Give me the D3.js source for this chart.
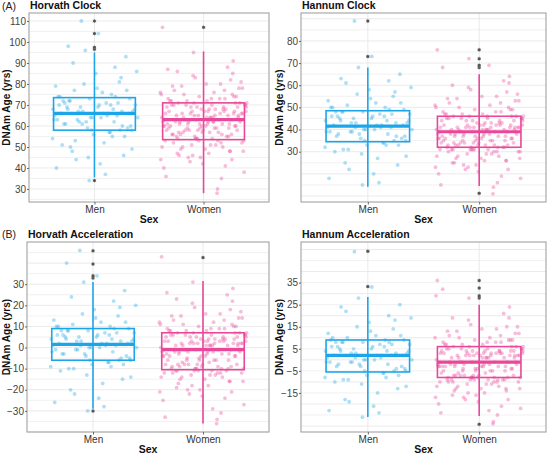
<!DOCTYPE html>
<html>
<head>
<meta charset="utf-8">
<script src="https://cdn.jsdelivr.net/npm/d3@7"></script>
<style>
  body { margin: 0; background: #fff; }
  svg { display: block; font-family: "Liberation Sans", Arial, sans-serif; }
</style>
</head>
<body>
<svg id="chart" width="548" height="453"></svg>
<script>
// categories
const groups = ["Men", "Women"];
const colors = { Men: "#1ca6e9", Women: "#e8479a" };

// box stats: [lower whisker, Q1, median, Q3, upper whisker]
const hcBox = { Men: [35.5, 58, 66, 73.5, 95], Women: [28, 53.5, 63, 71, 95.5] };
const hcOut = { Men: [34, 96.5, 97.5, 104, 110], Women: [107] };
const hnBox = { Men: [14.2, 34.5, 41.5, 48.5, 68], Women: [14.5, 32, 39, 46, 65] };
const hnOut = { Men: [73, 89], Women: [11.2, 68, 69, 72, 76] };
const haBox = { Men: [-29, -6, 1.5, 9, 31], Women: [-36, -10.5, -1, 7, 31.5] };
const haOut = { Men: [-30, 33, 34, 39.6, 45.8], Women: [42.6] };
const naBox = { Men: [-25.9, -5.5, 2, 9, 28.5], Women: [-25.5, -8, -1, 6, 25] };
const naOut = { Men: [33.2, 49.2], Women: [-29.2, 28, 29, 32.5, 36] };

// tick labels
const hcTicks = [30, 40, 50, 60, 70, 80, 90, 100, 110];
const hnTicks = [30, 40, 50, 60, 70, 80];
const haTicks = [-30, -20, -10, 0, 10, 20, 30];
const naTicks = [-15, -5, 5, 15, 25, 35];

// jittered individual values
const hcMen = [66,72,58,45,81,63,69,77,55,61,70,68,52,74,88,64,59,67,42,71,
65,79,57,62,73,50,85,66,60,69,76,54,68,64,93,48,71,63,58,80,
67,44,70,61,75,56,66,72,37,65,83,59,68,62,78,51,74,67,60,90,
64,70,46,73,57,69,86,63,66,40,71,58,77,53,65,68,62,96,49,72,
104,61,67,110,55,74,64,34,70,98];
const hcWomen = [63,71,54,48,77,60,66,58,82,69,51,64,73,45,62,56,68,79,59,65,
38,72,61,55,67,84,50,63,70,57,75,42,66,60,53,69,88,62,47,71,
64,58,76,52,67,61,35,73,56,65,80,49,63,70,59,44,68,54,74,62,
57,66,91,51,69,60,78,46,64,72,55,61,67,40,58,75,63,53,70,86,
65,59,48,71,62,56,81,66,52,68,60,74,43,64,57,69,54,77,61,30,
67,63,50,72,58,65,83,55,70,62,47,66,59,73,53,64,79,60,45,68,
57,71,63,51,76,61,95,56,67,49,64,70,58,85,62,54,69,41,66,60,
74,52,65,57,107,68,63,48,72,59,61,78,55,67,36,64,70,53,62,80,
58,66,50,73,60,65,46,69,56,28,63,71,54,61,87,67,59,44,75,62];
const hnMen = [42,48,35,29,55,39,45,51,33,41,47,44,27,50,62,40,36,43,20,46,
41,53,34,38,49,31,58,42,37,45,52,32,44,40,65,25,47,39,35,56,
43,22,46,38,50,33,42,48,16,41,57,36,44,39,54,30,49,43,37,61,
40,46,24,48,34,45,59,39,42,18,47,35,52,31,41,44,38,68,28,48,
73,37,43,89,33,50,40,15,46,63];
const hnWomen = [39,46,32,27,52,36,42,34,57,44,29,40,48,24,38,33,43,54,35,41,
18,47,37,31,42,59,28,39,45,33,50,21,41,36,30,44,62,38,26,46,
40,34,51,30,42,37,16,48,33,41,55,27,39,45,35,23,43,31,49,38,
33,41,64,29,44,36,53,25,40,47,32,37,42,20,34,50,39,31,45,60,
41,35,26,46,38,33,56,41,30,43,36,49,22,40,34,44,31,52,37,14,
42,39,28,47,34,41,58,32,45,38,25,41,35,48,31,40,54,36,24,43,
33,46,39,29,51,37,72,32,42,27,40,45,34,61,38,31,44,19,41,36,
49,30,40,33,76,43,39,26,47,35,37,53,31,42,15,40,45,30,38,55,
34,41,28,46,36,40,23,44,32,11,39,46,31,37,68,42,35,22,50,69];
const haMen = [2,8,-6,-13,15,-2,5,11,-8,1,7,4,-17,10,22,0,-4,3,-24,6,
1,13,-7,-3,9,-10,18,2,-5,5,12,-9,4,0,27,-20,7,-1,-6,16,
3,-22,6,-3,10,-8,2,8,-28,1,19,-4,4,-1,14,-11,9,3,-5,24,
0,6,-15,8,-7,5,20,-1,2,-26,7,-6,12,-10,1,4,-2,31,-14,8,
34,-3,3,46,-9,10,0,-30,6,40];
const haWomen = [-1,7,-10,-16,13,-4,3,-8,18,5,-13,0,9,-20,-2,-9,4,15,-6,2,
-27,8,-3,-11,4,21,-14,-1,6,-7,11,-23,2,-4,-12,5,25,-2,-18,7,
1,-8,12,-12,3,-5,-31,9,-9,2,16,-15,-1,6,-6,-21,4,-10,10,-2,
-7,3,28,-13,5,-4,14,-17,1,8,-10,-5,3,-25,-8,11,-1,-11,6,23,
2,-6,-16,7,-2,-9,17,2,-12,4,-4,10,-22,1,-8,5,-10,13,-3,-34,
3,-1,-14,8,-8,2,19,-11,6,-2,-19,2,-6,9,-12,1,15,-4,-20,4,
-9,7,-1,-13,12,-3,31,-10,3,-15,1,6,-8,22,-2,-11,5,-24,2,-4,
10,-12,1,-9,43,4,-1,-16,8,-6,-3,14,-11,3,-33,1,6,-10,-2,16,
-8,2,-14,9,-4,1,-18,5,-10,-36,-1,7,-11,-3,26,3,-6,-21,11,-29];
const naMen = [2,8,-5,-11,14,-1,5,10,-7,1,7,4,-15,9,20,0,-3,3,-21,6,
2,12,-6,-2,9,-9,17,2,-4,5,11,-8,4,0,25,-18,7,-1,-5,15,
3,-19,6,-2,9,-7,2,8,-24,1,18,-3,4,-1,13,-10,8,3,-4,22,
0,6,-13,8,-6,5,19,-1,2,-23,7,-5,11,-9,1,4,-2,28,-12,8,
33,-3,3,49,-8,10,0,-26,6,24];
const naWomen = [-1,6,-8,-13,11,-3,3,-6,15,4,-11,0,8,-16,-2,-7,3,13,-5,2,
-22,7,-3,-9,4,18,-12,-1,5,-6,9,-19,2,-3,-10,4,21,-2,-15,6,
1,-7,10,-10,3,-4,-25,8,-8,2,14,-13,-1,5,-5,-17,3,-8,9,-2,
-6,3,24,-11,4,-4,12,-14,1,7,-9,-4,2,-20,-7,10,-1,-9,5,19,
2,-5,-13,6,-2,-8,15,2,-10,3,-3,9,-18,1,-7,4,-8,11,-3,-28,
3,-1,-12,7,-7,2,16,-9,5,-2,-16,2,-5,8,-10,1,13,-4,-17,4,
-8,6,-1,-11,10,-3,28,-9,3,-13,1,5,-7,19,-2,-9,4,-21,2,-4,
9,-10,1,-8,36,4,-1,-14,7,-5,-3,12,-9,3,-24,1,5,-8,-2,14,
-7,2,-12,8,-3,1,-15,4,-9,-29,-1,6,-10,-3,32,3,-5,-18,29,-23];

// horizontal jitter offsets (fraction of jitter width)
const jitMen = [.31,-.72,.85,-.14,.57,-.93,.08,-.46,.69,-.28,.94,-.61,.22,-.83,.47,-.05,.76,-.37,.13,-.68,
.52,-.89,.36,-.19,.81,-.55,.03,-.77,.64,-.32,.18,-.96,.43,-.09,.72,-.51,.27,-.85,.59,-.24,
.88,-.42,.11,-.66,.39,-.02,.79,-.58,.25,-.91,.61,-.16,.92,-.35,.06,-.74,.48,-.27,.83,-.49,
.15,-.81,.67,-.11,.34,-.63,.97,-.39,.2,-.87,.54,-.07,.74,-.44,.29,-.95,.45,-.21,.86,-.56,
.09,-.7,.63,-.3,.41,-.79,.99,-.12,.37,-.6];
const jitWomen = [-.44,.73,-.18,.91,-.67,.05,.38,-.85,.62,-.29,.16,-.96,.49,-.07,.84,-.53,.27,-.71,.58,-.12,
.93,-.38,.09,-.62,.71,-.24,.44,-.89,.19,-.47,.66,-.02,.87,-.76,.33,-.15,.55,-.93,.12,-.58,
.79,-.33,.24,-.69,.97,-.09,.41,-.81,.64,-.21,.06,-.52,.82,-.4,.3,-.98,.51,-.17,.75,-.64,
.14,-.87,.68,-.27,.46,-.04,.89,-.56,.21,-.74,.57,-.36,.02,-.91,.77,-.45,.35,-.11,.95,-.6,
.26,-.8,.6,-.22,.11,-.7,.86,-.49,.4,-.05,-.92,.7,-.31,.17,-.57,.98,-.14,.48,-.83,.32,
-.26,.63,-.95,.08,-.42,.8,-.19,.53,-.73,.23,-.6,.9,-.08,.37,-.88,.15,-.5,.74,-.35,.45,
-.03,.83,-.66,.28,-.99,.59,-.23,.42,-.79,.04,-.46,.96,-.13,.67,-.54,.2,-.84,.5,-.3,.72,
-.1,.88,-.62,.34,-.94,.13,-.39,.61,-.77,.25,-.55,.81,-.2,.47,-.86,.07,-.68,.92,-.34,.39,
-.01,.69,-.48,.18,-.9,.56,-.25,.78,-.72,.31,-.16,.99,-.59,.43,-.82,.1,-.37,.65,-.97,.22];

const svg = d3.select("#chart");

// panel label letters
svg.append("text").attr("x", 2).attr("y", 10).attr("font-size", 10.5).attr("fill", "#222").text("(A)");
svg.append("text").attr("x", 2).attr("y", 238).attr("font-size", 10.5).attr("fill", "#222").text("(B)");

function drawPanel(p) {
  const g = svg.append("g");
  const x = d3.scalePoint().domain(groups).range([p.left, p.right]).padding(0.6);
  const y = d3.scaleLinear().domain(p.domain).range([p.bottom, p.top]);
  const step = x.step();

  // title
  g.append("text").attr("x", p.left + 1).attr("y", p.top - 4)
    .attr("font-size", 10.5).attr("font-weight", "bold").attr("fill", "#111").text(p.title);

  // grid lines every 5
  const grid = d3.range(Math.ceil(p.domain[0] / 5) * 5, p.domain[1], 5);
  g.selectAll(".grid").data(grid).enter().append("line")
    .attr("x1", p.left).attr("x2", p.right)
    .attr("y1", d => y(d)).attr("y2", d => y(d))
    .attr("stroke", d => d % 10 === 0 ? "#e4e4e4" : "#eeeeee").attr("stroke-width", 0.8);
  g.selectAll(".vgrid").data(groups).enter().append("line")
    .attr("x1", d => x(d)).attr("x2", d => x(d))
    .attr("y1", p.top).attr("y2", p.bottom)
    .attr("stroke", "#e4e4e4").attr("stroke-width", 0.8);

  groups.forEach(gr => {
    const cx = x(gr);
    const c = colors[gr];
    const vals = p.points[gr];
    const jit = gr === "Men" ? jitMen : jitWomen;
    // jittered points
    g.selectAll(null).data(vals).enter().append("circle")
      .attr("cx", (d, i) => cx + jit[i] * 0.4 * step)
      .attr("cy", d => y(d))
      .attr("r", 1.9)
      .attr("fill", c).attr("fill-opacity", 0.36);

    const b = p.box[gr];
    const hw = 0.375 * step;
    // whisker
    g.append("line").attr("x1", cx).attr("x2", cx)
      .attr("y1", y(b[0])).attr("y2", y(b[4]))
      .attr("stroke", c).attr("stroke-width", 1.6);
    // box
    g.append("rect").attr("x", cx - hw).attr("width", 2 * hw)
      .attr("y", y(b[3])).attr("height", y(b[1]) - y(b[3]))
      .attr("fill", "none").attr("stroke", c).attr("stroke-width", 1.6);
    // median
    g.append("line").attr("x1", cx - hw).attr("x2", cx + hw)
      .attr("y1", y(b[2])).attr("y2", y(b[2]))
      .attr("stroke", c).attr("stroke-width", 3.2);
    // outliers (asterisk)
    const o = g.selectAll(null).data(p.out[gr]).enter().append("g")
      .attr("transform", d => `translate(${cx},${y(d)})`);
    [0, 60, 120].forEach(a => {
      o.append("line").attr("x1", -2.1).attr("x2", 2.1).attr("y1", 0).attr("y2", 0)
        .attr("transform", `rotate(${a + 30})`)
        .attr("stroke", "#999").attr("stroke-width", 0.6);
    });
    o.append("circle").attr("r", 1.5).attr("fill", "#555");
  });

  // border
  g.append("rect").attr("x", p.left).attr("y", p.top)
    .attr("width", p.right - p.left).attr("height", p.bottom - p.top)
    .attr("fill", "none").attr("stroke", "#aaa").attr("stroke-width", 1.2);

  // y axis
  const ya = g.append("g").attr("transform", `translate(${p.left},0)`)
    .call(d3.axisLeft(y).tickValues(p.ticks).tickSize(2).tickSizeOuter(0).tickPadding(1));
  ya.select(".domain").remove();
  ya.selectAll("line").attr("stroke", "#666");
  ya.selectAll("text").attr("font-size", 10).attr("fill", "#444")
    .attr("font-family", "Liberation Sans, Arial, sans-serif");

  // x axis
  const xa = g.append("g").attr("transform", `translate(0,${p.bottom})`)
    .call(d3.axisBottom(x).tickSize(2.5).tickSizeOuter(0).tickPadding(1.5));
  xa.select(".domain").remove();
  xa.selectAll("line").attr("stroke", "#666");
  xa.selectAll("text").attr("font-size", 10).attr("fill", "#333")
    .attr("font-family", "Liberation Sans, Arial, sans-serif");

  // axis titles
  g.append("text").attr("x", (p.left + p.right) / 2).attr("y", p.bottom + 20.5)
    .attr("text-anchor", "middle").attr("font-size", 10.5).attr("font-weight", "bold")
    .attr("fill", "#111").text("Sex");
  g.append("text")
    .attr("transform", `translate(${p.ytx},${(p.top + p.bottom) / 2}) rotate(-90)`)
    .attr("text-anchor", "middle").attr("font-size", 10).attr("font-weight", "bold")
    .attr("fill", "#111").text("DNAm Age (yrs)");
}

drawPanel({ title: "Horvath Clock", left: 29, right: 269, top: 13, bottom: 202, ytx: 9.5,
  domain: [23.8, 113.8], ticks: hcTicks, box: hcBox, out: hcOut, points: { Men: hcMen, Women: hcWomen } });
drawPanel({ title: "Hannum Clock", left: 301, right: 546, top: 13, bottom: 202, ytx: 283,
  domain: [7.3, 92.6], ticks: hnTicks, box: hnBox, out: hnOut, points: { Men: hnMen, Women: hnWomen } });
drawPanel({ title: "Horvath Acceleration", left: 27, right: 269, top: 242, bottom: 432, ytx: 9.5,
  domain: [-40, 50], ticks: haTicks, box: haBox, out: haOut, points: { Men: haMen, Women: haWomen } });
drawPanel({ title: "Hannum Acceleration", left: 301, right: 546, top: 242, bottom: 432, ytx: 283,
  domain: [-32.7, 53.4], ticks: naTicks, box: naBox, out: naOut, points: { Men: naMen, Women: naWomen } });
</script>
</body>
</html>
